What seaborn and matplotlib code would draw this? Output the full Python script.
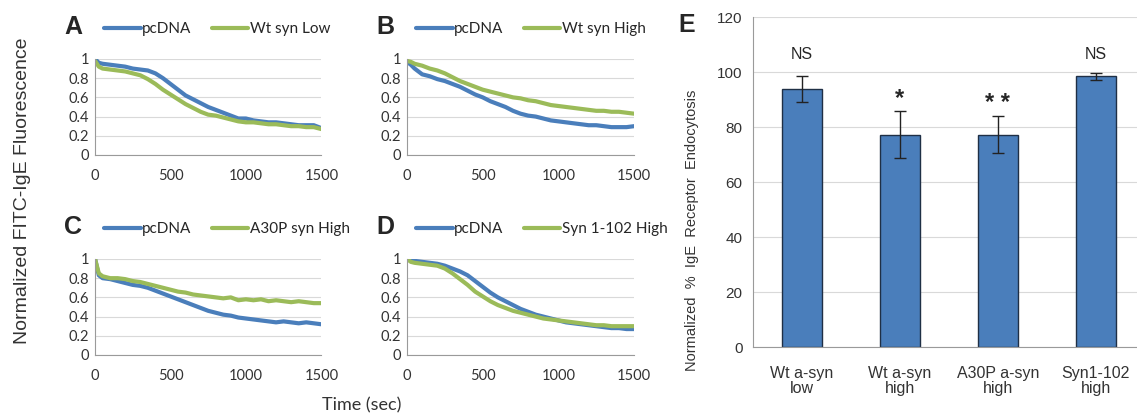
import numpy as np
import pandas as pd
import seaborn as sns
import matplotlib.pyplot as plt

## time course data
time = [0, 25, 50, 100, 150, 200, 250, 300, 350, 400, 450, 500, 550, 600, 650, 700,
        750, 800, 850, 900, 950, 1000, 1050, 1100, 1150, 1200, 1250, 1300, 1350, 1400, 1450, 1500]

a_pcdna = [1.0, 0.96, 0.95, 0.94, 0.93, 0.92, 0.90, 0.89, 0.88, 0.85, 0.80, 0.74, 0.68, 0.62, 0.58, 0.54,
           0.50, 0.47, 0.44, 0.41, 0.38, 0.38, 0.36, 0.35, 0.34, 0.34, 0.33, 0.32, 0.31, 0.31, 0.31, 0.28]
a_syn = [0.98, 0.92, 0.90, 0.89, 0.88, 0.87, 0.85, 0.83, 0.79, 0.74, 0.68, 0.63, 0.58, 0.53, 0.49, 0.45,
         0.42, 0.41, 0.39, 0.37, 0.35, 0.34, 0.34, 0.33, 0.32, 0.32, 0.31, 0.30, 0.30, 0.29, 0.29, 0.27]

b_pcdna = [0.97, 0.94, 0.90, 0.84, 0.82, 0.79, 0.77, 0.74, 0.71, 0.67, 0.63, 0.60, 0.56, 0.53, 0.50, 0.46,
           0.43, 0.41, 0.40, 0.38, 0.36, 0.35, 0.34, 0.33, 0.32, 0.31, 0.31, 0.30, 0.29, 0.29, 0.29, 0.30]
b_syn = [0.98, 0.97, 0.95, 0.93, 0.90, 0.88, 0.85, 0.81, 0.77, 0.74, 0.71, 0.68, 0.66, 0.64, 0.62, 0.60,
         0.59, 0.57, 0.56, 0.54, 0.52, 0.51, 0.50, 0.49, 0.48, 0.47, 0.46, 0.46, 0.45, 0.45, 0.44, 0.43]

c_pcdna = [1.0, 0.83, 0.80, 0.79, 0.77, 0.75, 0.73, 0.72, 0.70, 0.67, 0.64, 0.61, 0.58, 0.55, 0.52, 0.49,
           0.46, 0.44, 0.42, 0.41, 0.39, 0.38, 0.37, 0.36, 0.35, 0.34, 0.35, 0.34, 0.33, 0.34, 0.33, 0.32]
c_syn = [1.0, 0.85, 0.82, 0.80, 0.80, 0.79, 0.77, 0.76, 0.74, 0.72, 0.70, 0.68, 0.66, 0.65, 0.63, 0.62,
         0.61, 0.60, 0.59, 0.60, 0.57, 0.58, 0.57, 0.58, 0.56, 0.57, 0.56, 0.55, 0.56, 0.55, 0.54, 0.54]

d_pcdna = [1.0, 0.99, 0.98, 0.97, 0.96, 0.95, 0.93, 0.90, 0.87, 0.83, 0.77, 0.71, 0.65, 0.60, 0.56, 0.52,
           0.48, 0.45, 0.42, 0.40, 0.38, 0.36, 0.34, 0.33, 0.32, 0.31, 0.30, 0.29, 0.28, 0.28, 0.27, 0.27]
d_syn = [1.0, 0.97, 0.96, 0.95, 0.94, 0.93, 0.90, 0.85, 0.79, 0.73, 0.66, 0.61, 0.56, 0.52, 0.49, 0.46,
         0.44, 0.42, 0.40, 0.38, 0.37, 0.36, 0.35, 0.34, 0.33, 0.32, 0.31, 0.31, 0.30, 0.30, 0.30, 0.30]

panel_letters = ["A", "B", "C", "D"]
syn_labels = ["Wt syn Low", "Wt syn High", "A30P syn High", "Syn 1-102 High"]

## bar data (panel E)
bar_labels = ["Wt a-syn\nlow", "Wt a-syn\nhigh", "A30P a-syn\nhigh", "Syn1-102\nhigh"]
bar_values = [93.8, 77.2, 77.2, 98.5]
bar_err = [4.8, 8.5, 6.8, 1.3]
bar_marks = ["NS", "*", "* *", "NS"]

## plot figure
sns.set_style("white")
plt.rcParams['font.family'] = ['Lato', 'DejaVu Sans']
plt.rcParams["font.size"] = 10
arial = ['Liberation Sans', 'DejaVu Sans']

blue = "#4a7ebb"
green = "#9bbb59"
txt = "#333333"

fig = plt.figure(figsize=(11.37, 4.2), dpi=100)

positions = [[0.0836, 0.631, 0.199, 0.2286], [0.358, 0.631, 0.1997, 0.2286],
             [0.0836, 0.1548, 0.199, 0.2286], [0.358, 0.1548, 0.1997, 0.2286]]
curves = [(a_pcdna, a_syn), (b_pcdna, b_syn), (c_pcdna, c_syn), (d_pcdna, d_syn)]

for pos, letter, lab, (ctrl, syn) in zip(positions, panel_letters, syn_labels, curves):
    ax = fig.add_axes(pos)
    ax.set_axisbelow(True)
    df = pd.DataFrame({"Time": time * 2, "Value": ctrl + syn,
                       "Group": ["pcDNA"] * len(time) + [lab] * len(time)})
    sns.lineplot(data=df, x="Time", y="Value", hue="Group", palette=[blue, green],
                 linewidth=3, ax=ax)
    ax.set_xlim(0, 1500)
    ax.set_ylim(0, 1)
    ax.set_xticks([0, 500, 1000, 1500])
    ax.set_yticks([0, 0.2, 0.4, 0.6, 0.8, 1])
    ax.set_yticklabels(["0", "0.2", "0.4", "0.6", "0.8", "1"])
    ax.grid(axis="y", color="#d9d9d9", lw=0.8)
    ax.set_xlabel("")
    ax.set_ylabel("")
    for s in ["top", "right"]:
        ax.spines[s].set_visible(False)
    for s in ["left", "bottom"]:
        ax.spines[s].set_color("#9a9a9a")
        ax.spines[s].set_linewidth(0.8)
    ax.tick_params(axis="x", length=4, color="#9a9a9a", labelsize=10.5, labelcolor=txt, pad=6)
    ax.tick_params(axis="y", length=0, labelsize=10.5, labelcolor=txt, pad=4)
    ax.legend(loc="center left", bbox_to_anchor=(0.04, 1.31), ncol=2, frameon=False,
              handlelength=2.4, handletextpad=0.1, columnspacing=1.3, fontsize=11,
              borderaxespad=0, borderpad=0)
    fig.text(pos[0] - 0.019, pos[1] + pos[3] + 0.075, letter, fontsize=18,
             fontweight="bold", ha="center", va="center", family=arial)

fig.text(0.02, 0.545, "Normalized FITC-IgE Fluorescence", rotation=90,
         ha="center", va="center", fontsize=14, color=txt, family=arial)
fig.text(0.318, 0.036, "Time (sec)", ha="center", va="center", fontsize=13, color=txt)

## panel E
axe = fig.add_axes([0.6623, 0.1738, 0.3377, 0.7857])
axe.set_axisbelow(True)
df_bar = pd.DataFrame({"Group": bar_labels, "Value": bar_values})
sns.barplot(data=df_bar, x="Group", y="Value", color=blue, saturation=1,
            width=0.41, edgecolor="#1f2f45", linewidth=1, errorbar=None, ax=axe)
axe.errorbar(range(len(bar_values)), bar_values, yerr=bar_err, fmt="none",
             ecolor="#222222", elinewidth=1, capsize=4, capthick=1)
for i, (v, e, m) in enumerate(zip(bar_values, bar_err, bar_marks)):
    if m == "NS":
        axe.text(i, 106.5, m, ha="center", va="center", fontsize=11.5, family=arial)
    else:
        axe.text(i, v + e + 0.3, m, ha="center", va="bottom", fontsize=17, fontweight="bold",
                 family=arial)
axe.set_xlim(-0.5, 3.42)
axe.set_ylim(0, 120)
axe.set_yticks(range(0, 121, 20))
axe.grid(axis="y", color="#d9d9d9", lw=0.8)
axe.set_xticks([0, 1, 2, 3])
axe.set_xticklabels(bar_labels, family=arial, fontsize=11.5, linespacing=1.0)
axe.set_xticks([-0.5, 0.5, 1.5, 2.5], minor=True)
axe.tick_params(axis="x", which="major", length=0, labelcolor=txt, pad=14)
axe.tick_params(axis="x", which="minor", length=5, color="#9a9a9a")
axe.tick_params(axis="y", length=4, color="#9a9a9a", labelsize=11, labelcolor=txt)
for t in axe.get_yticklabels():
    t.set_family(arial)
axe.set_xlabel("")
axe.set_ylabel("Normalized  %  IgE  Receptor  Endocytosis", fontsize=10.5, color=txt,
               family=arial)
axe.yaxis.set_label_coords(-0.142, 0.355)
for s in ["top", "right"]:
    axe.spines[s].set_visible(False)
for s in ["left", "bottom"]:
    axe.spines[s].set_color("#9a9a9a")
    axe.spines[s].set_linewidth(0.8)
fig.text(0.604, 0.94, "E", fontsize=18, fontweight="bold", ha="center", va="center",
         family=arial)

## save figure
plt.savefig("out.png", dpi=100)
